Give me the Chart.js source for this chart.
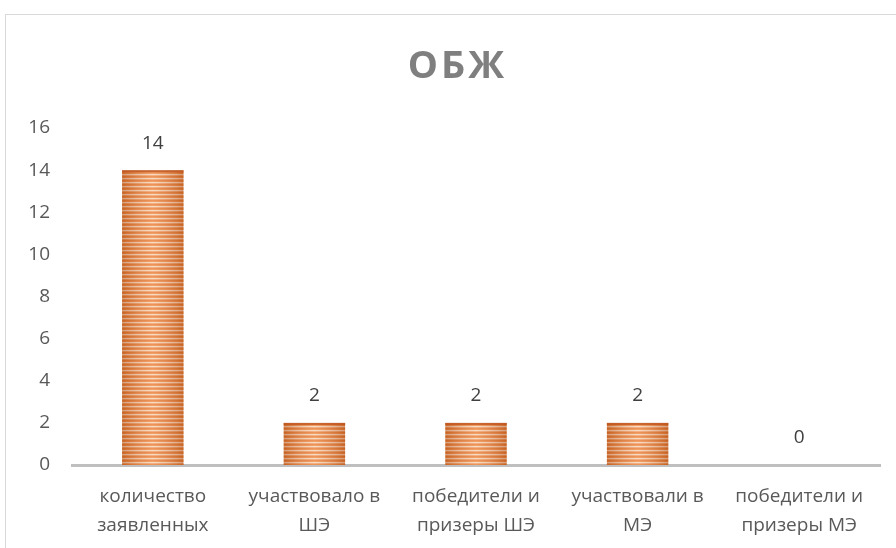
<!DOCTYPE html>
<html>
<head>
<meta charset="utf-8">
<script src="https://cdn.jsdelivr.net/npm/chart.js@4"></script>
<style>
  html, body { margin: 0; padding: 0; background: #fff; overflow: hidden; }
  #frame { position: absolute; left: 5px; top: 14px; width: 1000px; height: 600px; border: 1px solid #d9d9d9; }
  #wrap { position: absolute; left: 0; top: 0; width: 896px; height: 548px; }
</style>
</head>
<body>
<div id="frame"></div>
<div id="wrap"><canvas id="chart" width="896" height="548"></canvas></div>
<script>
const chartTitle = 'ОБЖ';
const categories = [
  ['количество', 'заявленных'],
  ['участвовало в', 'ШЭ'],
  ['победители и', 'призеры ШЭ'],
  ['участвовали в', 'МЭ'],
  ['победители и', 'призеры МЭ']
];
const values = [14, 2, 2, 2, 0];

const FONT = '"Open Sans", sans-serif';

// striped fill like the office "pattern" bars
function makeStripes(ctx) {
  const c = document.createElement('canvas');
  c.width = 1; c.height = 4;
  const g = c.getContext('2d');
  const rows = ['#E8772B', '#ED863F', '#F9D2B6', '#F09A5E'];
  rows.forEach((col, i) => { g.fillStyle = col; g.fillRect(0, i, 1, 1); });
  return ctx.createPattern(c, 'repeat');
}

const shade = {
  id: 'shade',
  afterDatasetsDraw(chart) {
    const ctx = chart.ctx;
    chart.getDatasetMeta(0).data.forEach(bar => {
      const p = bar.getProps(['x', 'y', 'base', 'width'], true);
      const h = p.base - p.y;
      if (h <= 0) return;
      const l = p.x - p.width / 2;
      const gr = ctx.createLinearGradient(l, 0, l + p.width, 0);
      gr.addColorStop(0, 'rgba(140,55,10,0.35)');
      gr.addColorStop(0.5, 'rgba(255,255,255,0.22)');
      gr.addColorStop(1, 'rgba(140,55,10,0.35)');
      ctx.save();
      ctx.fillStyle = gr;
      ctx.fillRect(l, p.y, p.width, h);
      ctx.fillStyle = 'rgba(190,85,30,0.8)';
      ctx.fillRect(l, p.y, p.width, 2);
      ctx.restore();
    });
  }
};

const valueLabels = {
  id: 'valueLabels',
  afterDatasetsDraw(chart) {
    const ctx = chart.ctx;
    ctx.save();
    ctx.font = '19px ' + FONT;
    ctx.fillStyle = '#404040';
    ctx.textAlign = 'center';
    ctx.textBaseline = 'middle';
    chart.getDatasetMeta(0).data.forEach((bar, i) => {
      ctx.fillText(String(values[i]), bar.x, bar.y - 27);
    });
    ctx.restore();
  }
};

// spaced-out bold title, centred over the plot
const spacedTitle = {
  id: 'spacedTitle',
  afterDraw(chart) {
    const ctx = chart.ctx;
    ctx.save();
    ctx.font = 'bold 38px ' + FONT;
    ctx.fillStyle = '#7f7f7f';
    ctx.letterSpacing = '3px';
    ctx.textAlign = 'left';
    ctx.textBaseline = 'alphabetic';
    const w = ctx.measureText(chartTitle).width - 3;
    ctx.fillText(chartTitle, 456 - w / 2, 78);
    ctx.restore();
  }
};

const canvas = document.getElementById('chart');
new Chart(canvas, {
  type: 'bar',
  data: {
    labels: categories,
    datasets: [{
      data: values,
      backgroundColor: makeStripes(canvas.getContext('2d')),
      borderWidth: 0,
      categoryPercentage: 1,
      barPercentage: 0.38
    }]
  },
  plugins: [shade, valueLabels, spacedTitle],
  options: {
    responsive: false,
    animation: false,
    devicePixelRatio: 1,
    layout: { padding: { left: 0, right: 16, top: 128, bottom: 0 } },
    plugins: {
      legend: { display: false },
      tooltip: { enabled: false },
      title: { display: false }
    },
    scales: {
      x: {
        grid: { display: false, drawTicks: false },
        border: { display: true, color: '#bfbfbf', width: 3 },
        ticks: {
          color: '#595959',
          font: { family: FONT, size: 19, lineHeight: 1.52 },
          padding: 17,
          maxRotation: 0,
          autoSkip: false
        },
        afterFit(s) { s.height = 83; }
      },
      y: {
        min: 0,
        max: 16,
        grid: { display: false, drawTicks: false },
        border: { display: false },
        ticks: {
          stepSize: 2,
          color: '#595959',
          font: { family: FONT, size: 19 },
          padding: 22
        },
        afterFit(s) { s.width = 72; }
      }
    }
  }
});
</script>
</body>
</html>
